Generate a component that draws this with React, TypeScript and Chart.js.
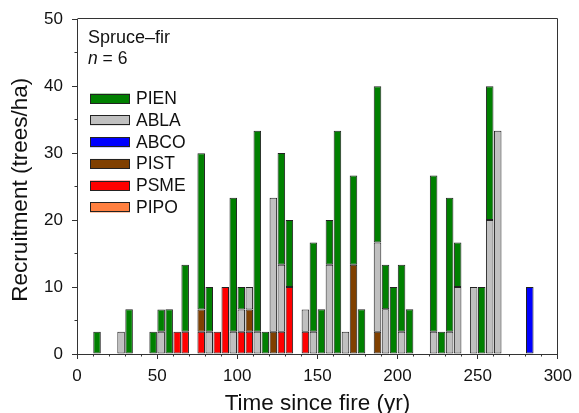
import { useEffect, useRef } from 'react';
import { Chart, registerables } from 'chart.js';

Chart.register(...registerables);

const FONT = "'Liberation Sans', Arial, Helvetica, sans-serif";

// ---- data ----
const GROUP_NAME = 'Spruce\u2013fir';
const N_SITES = 6;
const BIN_WIDTH = 5; // years per recruitment bin

const binStarts = [10, 25, 30, 45, 50, 55, 60, 65, 75, 80, 85, 90, 95, 100, 105, 110, 115, 120, 125, 130, 140, 145, 150, 155, 160, 165, 170, 175, 185, 190, 195, 200, 205, 220, 225, 230, 235, 245, 250, 255, 260, 280];

const PIEN = [3.33, 0, 6.67, 3.33, 3.33, 6.67, 0, 10, 23.33, 6.67, 0, 0, 20, 3.33, 0, 30, 3.33, 0, 16.67, 10, 0, 13.33, 6.67, 6.67, 33.33, 0, 13.33, 6.67, 23.33, 6.67, 10, 10, 6.67, 23.33, 3.33, 20, 6.67, 0, 10, 20, 0, 0];
const ABLA = [0, 3.33, 0, 0, 3.33, 0, 0, 0, 0, 3.33, 0, 0, 3.33, 3.33, 3.33, 3.33, 0, 20, 10, 0, 3.33, 3.33, 0, 13.33, 0, 3.33, 0, 0, 13.33, 6.67, 0, 3.33, 0, 3.33, 0, 3.33, 10, 10, 0, 20, 33.33, 0];
const ABCO = [0, 0, 0, 0, 0, 0, 0, 0, 0, 0, 0, 0, 0, 0, 0, 0, 0, 0, 0, 0, 0, 0, 0, 0, 0, 0, 0, 0, 0, 0, 0, 0, 0, 0, 0, 0, 0, 0, 0, 0, 0, 10];
const PIST = [0, 0, 0, 0, 0, 0, 0, 0, 3.33, 0, 0, 0, 0, 0, 3.33, 0, 0, 3.33, 0, 0, 0, 0, 0, 0, 0, 0, 13.33, 0, 3.33, 0, 0, 0, 0, 0, 0, 0, 0, 0, 0, 0, 0, 0];
const PSME = [0, 0, 0, 0, 0, 0, 3.33, 3.33, 3.33, 0, 3.33, 10, 0, 3.33, 3.33, 0, 0, 0, 3.33, 10, 3.33, 0, 0, 0, 0, 0, 0, 0, 0, 0, 0, 0, 0, 0, 0, 0, 0, 0, 0, 0, 0, 0];
const PIPO = [0, 0, 0, 0, 0, 0, 0, 0, 0, 0, 0, 0, 0, 0, 0, 0, 0, 0, 0, 0, 0, 0, 0, 0, 0, 0, 0, 0, 0, 0, 0, 0, 0, 0, 0, 0, 0, 0, 0, 0, 0, 0];

// stacking order, bottom to top
const speciesNames = ['PIPO', 'PSME', 'PIST', 'ABCO', 'ABLA', 'PIEN'];
const speciesValues = [PIPO, PSME, PIST, ABCO, ABLA, PIEN];
// legend order, top to bottom
const legendOrder = ['PIEN', 'ABLA', 'ABCO', 'PIST', 'PSME', 'PIPO'];

const xTickValues = [0, 50, 100, 150, 200, 250, 300];
const yTickValues = [0, 10, 20, 30, 40, 50];

// ---- style ----
const COLORS: Record<string, string> = {
  PIEN: '#008000',
  ABLA: '#c0c0c0',
  ABCO: '#0000ff',
  PIST: '#804000',
  PSME: '#ff0000',
  PIPO: '#ff8040',
};
const EDGE = '#222222';
const AXIS = '#333333';
const TEXT = '#111111';

const insetLegend = {
  id: 'insetLegend',
  afterDraw(chart: any) {
    const { ctx, chartArea } = chart;
    ctx.save();
    // frame top & right
    ctx.strokeStyle = AXIS;
    ctx.lineWidth = 1;
    ctx.beginPath();
    ctx.moveTo(Math.round(chartArea.left) + 0.5, Math.round(chartArea.top) - 0.5);
    ctx.lineTo(Math.round(chartArea.right) - 0.5, Math.round(chartArea.top) - 0.5);
    ctx.lineTo(Math.round(chartArea.right) - 0.5, Math.round(chartArea.bottom));
    ctx.stroke();

    ctx.fillStyle = TEXT;
    ctx.textBaseline = 'alphabetic';
    ctx.textAlign = 'left';
    ctx.font = `18px ${FONT}`;
    ctx.fillText(GROUP_NAME, 88, 43);
    ctx.font = `italic 17.5px ${FONT}`;
    ctx.fillText('n', 88, 63.5);
    const w = ctx.measureText('n').width;
    ctx.font = `17.5px ${FONT}`;
    ctx.fillText(` = ${N_SITES}`, 88 + w, 63.5);

    legendOrder.forEach((name, i) => {
      const ds = chart.data.datasets.find((d: any) => d.label === name);
      const cy = 98.7 + i * 21.75;
      ctx.fillStyle = ds.backgroundColor;
      ctx.fillRect(90, cy - 5, 40, 10);
      ctx.strokeStyle = EDGE;
      ctx.lineWidth = 1;
      ctx.strokeRect(90.5, Math.round(cy - 5) + 0.5, 39, 9);
      ctx.fillStyle = TEXT;
      ctx.textBaseline = 'middle';
      ctx.fillText(name, 136, cy + 0.5);
    });
    ctx.restore();
  },
};

export default function App() {
  const ref = useRef<HTMLCanvasElement>(null);

  useEffect(() => {
    document.body.style.margin = '0';
    const canvas = ref.current;
    if (!canvas) return;

    const datasets = speciesNames.map((name, k) => ({
      label: name,
      data: binStarts.map((b, i) => ({
        x: b + BIN_WIDTH / 2,
        y: speciesValues[k][i] === 0 ? null : speciesValues[k][i],
      })),
      backgroundColor: COLORS[name],
      borderColor: EDGE,
      borderWidth: 1,
      borderSkipped: false,
      categoryPercentage: 1,
      barPercentage: 0.94,
      xAxisID: 'x',
      yAxisID: 'y',
    }));

    const tickFont = { family: FONT, size: 17 };
    const titleFont = { family: FONT, size: 22.5 };

    const chart = new Chart(canvas, {
      type: 'bar',
      data: { datasets } as any,
      plugins: [insetLegend],
      options: {
        animation: false,
        responsive: false,
        devicePixelRatio: 1,
        layout: { padding: { left: 0, top: 19, right: 16, bottom: 0 } },
        plugins: { legend: { display: false }, tooltip: { enabled: false } },
        scales: {
          x: {
            type: 'linear',
            axis: 'x',
            position: 'bottom',
            stacked: true,
            offset: false,
            min: 0,
            max: 300,
            weight: 1,
            afterFit: (s: any) => { s.height = 59; },
            afterBuildTicks: (s: any) => { s.ticks = xTickValues.map((v) => ({ value: v })); },
            ticks: { font: tickFont, color: TEXT, padding: 7, maxRotation: 0, autoSkip: false },
            grid: { offset: false, drawOnChartArea: false, drawTicks: true, tickLength: 5, color: AXIS, tickColor: AXIS },
            border: { display: true, color: AXIS, width: 1 },
            title: { display: true, text: 'Time since fire (yr)', font: { ...titleFont, lineHeight: 0.8 }, color: TEXT, padding: { top: 0, bottom: 0.6 } },
          },
          xMinor: {
            type: 'linear',
            axis: 'x',
            position: 'bottom',
            offset: false,
            min: 0,
            max: 300,
            weight: 0,
            afterFit: (s: any) => { s.height = 0; },
            ticks: { stepSize: 10, display: false, autoSkip: false },
            grid: { offset: false, drawOnChartArea: false, drawTicks: true, tickLength: 2.5, color: AXIS, tickColor: AXIS },
            border: { display: false },
          },
          y: {
            type: 'linear',
            axis: 'y',
            position: 'left',
            stacked: true,
            min: 0,
            max: 50,
            weight: 1,
            afterFit: (s: any) => { s.width = 77; },
            afterBuildTicks: (s: any) => { s.ticks = yTickValues.map((v) => ({ value: v })); },
            ticks: { font: tickFont, color: TEXT, padding: 9, autoSkip: false },
            grid: { drawOnChartArea: false, drawTicks: true, tickLength: 5, color: AXIS, tickColor: AXIS },
            border: { display: true, color: AXIS, width: 1 },
            title: { display: true, text: 'Recruitment (trees/ha) ', font: titleFont, color: TEXT, padding: { top: 7, bottom: 0 } },
          },
          yMinor: {
            type: 'linear',
            axis: 'y',
            position: 'left',
            min: 0,
            max: 50,
            weight: 0,
            afterFit: (s: any) => { s.width = 0; },
            ticks: { stepSize: 5, display: false, autoSkip: false },
            grid: { drawOnChartArea: false, drawTicks: true, tickLength: 2.5, color: AXIS, tickColor: AXIS },
            border: { display: false },
          },
        },
      } as any,
    });

    return () => chart.destroy();
  }, []);

  return (
    <div style={{ width: 579, height: 413 }}>
      <canvas ref={ref} width={579} height={413} style={{ display: 'block' }} />
    </div>
  );
}
